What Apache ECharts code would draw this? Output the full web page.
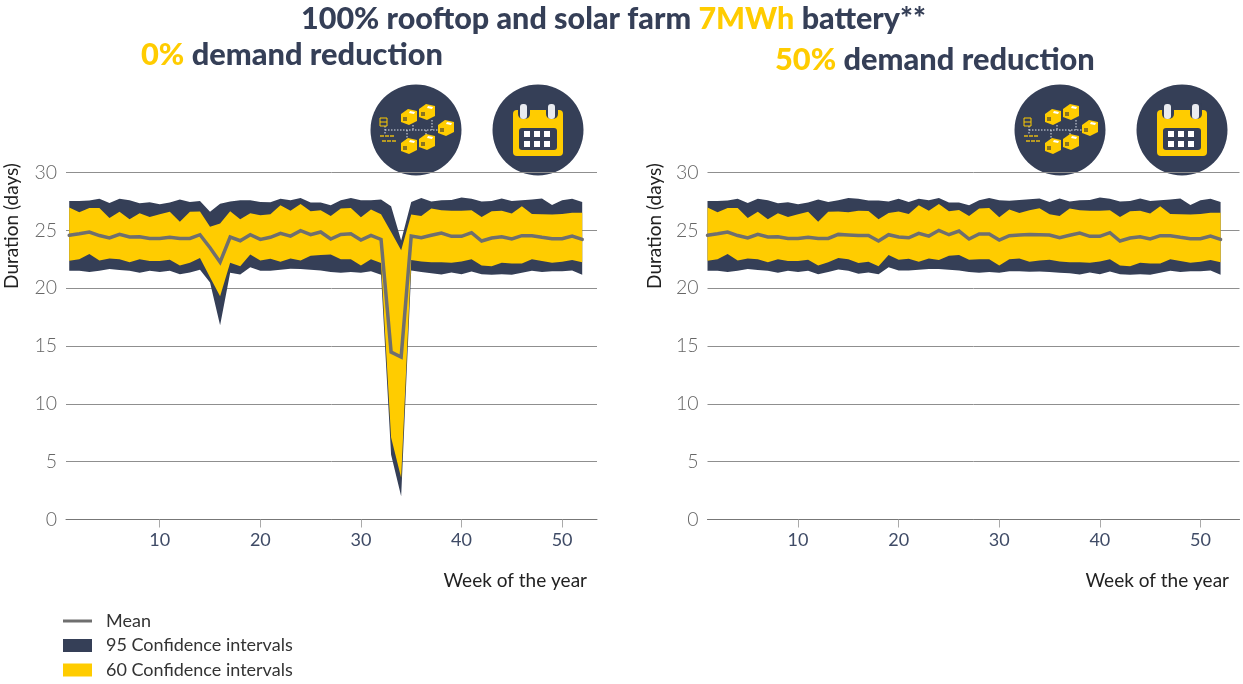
<!DOCTYPE html>
<html lang="en" style="height: 100%">
<head>
<meta charset="utf-8">
<title>100% rooftop and solar farm 7MWh battery</title>
</head>
<body style="height: 100%; margin: 0; background: #fff">
<div id="container" style="height: 100%"></div>
<script src="https://cdn.jsdelivr.net/npm/echarts/dist/echarts.min.js"></script>
<script>
var weeks = [];
for (var w = 1; w <= 52; w++) weeks.push(w);

var weekTicks = [10, 20, 30, 40, 50];

// 0% demand reduction
var low95A = [21.5, 21.5, 21.39, 21.5, 21.65, 21.56, 21.5, 21.33, 21.5, 21.39, 21.5, 21.2, 21.36, 21.6, 20.5, 16.8, 21.33, 21.18, 21.8, 21.5, 21.5, 21.6, 21.68, 21.65, 21.6, 21.53, 21.39, 21.33, 21.39, 21.33, 21.47, 21.16, 5.6, 2.0, 21.53, 21.39, 21.3, 21.18, 21.36, 21.2, 21.45, 21.2, 21.16, 21.2, 21.16, 21.33, 21.5, 21.39, 21.47, 21.47, 21.53, 21.16];
var low60A = [22.37, 22.49, 22.95, 22.4, 22.57, 22.49, 22.25, 22.5, 22.34, 22.34, 22.46, 21.97, 22.2, 22.6, 20.95, 19.3, 22.2, 21.9, 22.9, 22.4, 22.54, 22.28, 22.57, 22.4, 22.8, 22.86, 22.92, 22.49, 22.5, 21.97, 22.5, 22.17, 7.1, 3.6, 22.43, 22.31, 22.25, 22.25, 22.2, 22.31, 22.5, 21.97, 21.9, 22.2, 22.14, 22.14, 22.49, 22.34, 22.2, 22.28, 22.43, 22.25];
var meanA = [24.57, 24.7, 24.85, 24.55, 24.34, 24.65, 24.42, 24.45, 24.3, 24.3, 24.4, 24.3, 24.3, 24.62, 23.5, 22.25, 24.42, 24.1, 24.62, 24.22, 24.4, 24.74, 24.5, 24.97, 24.62, 24.86, 24.25, 24.65, 24.71, 24.16, 24.57, 24.22, 14.48, 14.05, 24.5, 24.36, 24.57, 24.77, 24.48, 24.48, 24.8, 24.08, 24.34, 24.45, 24.25, 24.54, 24.54, 24.4, 24.28, 24.28, 24.5, 24.22];
var up60A = [26.97, 26.56, 26.94, 26.94, 26.07, 26.6, 25.95, 26.47, 26.15, 26.39, 26.6, 25.75, 26.6, 26.62, 25.3, 25.6, 26.65, 25.95, 26.47, 26.3, 26.39, 27.17, 26.7, 27.28, 26.65, 26.73, 26.24, 26.88, 26.94, 26.13, 26.8, 26.39, 24.86, 23.27, 26.36, 26.24, 26.88, 26.73, 26.7, 26.7, 26.73, 26.16, 26.65, 26.7, 26.45, 27.08, 26.42, 26.39, 26.36, 26.42, 26.53, 26.53];
var up95A = [27.54, 27.54, 27.57, 27.72, 27.37, 27.72, 27.6, 27.34, 27.43, 27.25, 27.4, 27.66, 27.46, 27.54, 26.6, 27.3, 27.5, 27.6, 27.6, 27.46, 27.43, 27.72, 27.6, 27.8, 27.4, 27.4, 27.17, 27.6, 27.8, 27.6, 27.6, 27.66, 27.08, 24.13, 27.46, 27.8, 27.5, 27.6, 27.63, 27.83, 27.72, 27.49, 27.54, 27.75, 27.54, 27.6, 27.66, 27.75, 27.2, 27.6, 27.72, 27.46];

// 50% demand reduction
var low95B = [21.5, 21.5, 21.39, 21.5, 21.65, 21.56, 21.5, 21.33, 21.5, 21.39, 21.5, 21.2, 21.39, 21.62, 21.5, 21.24, 21.36, 21.2, 21.8, 21.53, 21.53, 21.6, 21.65, 21.65, 21.6, 21.53, 21.39, 21.33, 21.39, 21.33, 21.47, 21.47, 21.42, 21.45, 21.39, 21.33, 21.3, 21.18, 21.36, 21.2, 21.45, 21.2, 21.16, 21.2, 21.16, 21.33, 21.5, 21.39, 21.47, 21.47, 21.53, 21.16];
var low60B = [22.37, 22.49, 22.95, 22.4, 22.57, 22.49, 22.25, 22.5, 22.34, 22.34, 22.46, 21.97, 22.25, 22.6, 22.5, 22.17, 22.28, 21.9, 22.86, 22.46, 22.54, 22.28, 22.57, 22.43, 22.8, 22.86, 22.46, 22.49, 22.5, 21.97, 22.49, 22.57, 22.28, 22.4, 22.46, 22.31, 22.25, 22.25, 22.2, 22.31, 22.5, 21.97, 21.9, 22.2, 22.14, 22.14, 22.49, 22.34, 22.2, 22.28, 22.43, 22.25];
var meanB = [24.57, 24.7, 24.85, 24.55, 24.34, 24.65, 24.42, 24.45, 24.3, 24.3, 24.4, 24.3, 24.3, 24.65, 24.6, 24.55, 24.55, 24.08, 24.62, 24.42, 24.36, 24.74, 24.5, 25.0, 24.62, 24.94, 24.25, 24.68, 24.68, 24.16, 24.54, 24.6, 24.65, 24.62, 24.6, 24.36, 24.57, 24.77, 24.48, 24.48, 24.8, 24.08, 24.34, 24.45, 24.25, 24.54, 24.54, 24.4, 24.28, 24.28, 24.5, 24.22];
var up60B = [26.97, 26.56, 26.94, 26.94, 26.07, 26.6, 25.95, 26.47, 26.15, 26.39, 26.6, 25.75, 26.6, 26.62, 26.56, 26.7, 26.68, 25.95, 26.5, 26.62, 26.42, 27.17, 26.7, 27.28, 26.65, 26.76, 26.24, 26.88, 26.94, 26.13, 26.8, 26.5, 26.73, 26.9, 26.39, 26.24, 26.88, 26.73, 26.7, 26.7, 26.73, 26.16, 26.65, 26.7, 26.45, 27.08, 26.42, 26.39, 26.36, 26.42, 26.53, 26.53];
var up95B = [27.54, 27.54, 27.57, 27.72, 27.37, 27.72, 27.6, 27.34, 27.43, 27.25, 27.4, 27.66, 27.46, 27.6, 27.8, 27.72, 27.57, 27.57, 27.5, 27.72, 27.46, 27.72, 27.6, 27.8, 27.4, 27.4, 27.17, 27.6, 27.8, 27.6, 27.55, 27.63, 27.69, 27.75, 27.46, 27.75, 27.5, 27.6, 27.63, 27.83, 27.72, 27.49, 27.54, 27.75, 27.54, 27.6, 27.66, 27.75, 27.2, 27.6, 27.72, 27.46];

var NAVY = '#353f57';
var YELLOW = '#ffcc00';
var GREY = '#6f6f6f';
var FONT = 'Lato';

var dom = document.getElementById('container');
var myChart = echarts.init(dom);

function pairs(arr) {
    return arr.map(function (v, i) { return [weeks[i], v]; });
}

// one filled polygon per band, run along the upper edge and back along the lower
function band(name, low, up, color, gridIdx) {
    return {
        name: name, type: 'custom', xAxisIndex: gridIdx, yAxisIndex: gridIdx,
        silent: true, itemStyle: { color: color },
        encode: { x: 0, y: [1, 2] },
        data: low.map(function (v, i) { return [weeks[i], v, up[i]]; }),
        renderItem: function (params, api) {
            if (params.dataIndex !== 0) return null;
            var pts = [];
            weeks.forEach(function (wk, i) { pts.push(api.coord([wk, up[i]])); });
            for (var i = weeks.length - 1; i >= 0; i--) pts.push(api.coord([weeks[i], low[i]]));
            return { type: 'polygon', shape: { points: pts }, style: { fill: color } };
        }
    };
}

function panelSeries(low95, low60, mean, up60, up95, gridIdx) {
    return [
        band('95 Confidence intervals', low95, up95, NAVY, gridIdx),
        band('60 Confidence intervals', low60, up60, YELLOW, gridIdx),
        {
            name: 'Mean', type: 'line', xAxisIndex: gridIdx, yAxisIndex: gridIdx,
            showSymbol: false, silent: true, z: 5, clip: false,
            lineStyle: { color: GREY, width: 3.5, cap: 'round', join: 'miter' },
            itemStyle: { color: GREY },
            data: pairs(mean)
        }
    ];
}

function xAxisFor(gridIdx, min, max) {
    return {
        type: 'value', gridIndex: gridIdx, min: min, max: max,
        splitLine: { show: false },
        axisLine: { show: true, onZero: false, lineStyle: { color: '#777', width: 1 } },
        axisTick: { show: true, customValues: weekTicks, length: 8, lineStyle: { color: '#aaa', width: 1 } },
        axisLabel: {
            customValues: weekTicks, color: '#3f4b66', fontFamily: FONT, fontSize: 18, margin: 12
        }
    };
}

function yAxisFor(gridIdx) {
    return {
        type: 'value', gridIndex: gridIdx, min: 0, max: 30, interval: 5,
        axisLine: { show: false },
        axisTick: { show: false },
        splitLine: { lineStyle: { color: '#8f8f8f', width: 1 } },
        axisLabel: { color: '#666', fontFamily: FONT, fontSize: 19.5, fontWeight: 300, margin: 9 }
    };
}

// small flat-shaded house for the network badge
function house(x, y) {
    return [
        { type: 'polygon', shape: { points: [[x - 8, y - 3], [x - 1, y - 8], [x + 8, y - 6], [x + 8, y + 4], [x, y + 8], [x - 8, y + 5]] }, style: { fill: YELLOW } },
        { type: 'polygon', shape: { points: [[x + 1, y - 6], [x + 6, y - 5], [x + 5, y - 3], [x, y - 4]] }, style: { fill: '#fff' } },
        { type: 'rect', shape: { x: x - 6, y: y, width: 4, height: 4 }, style: { fill: '#8a7420' } }
    ];
}

function dots(x1, y1, x2, y2) {
    return { type: 'line', shape: { x1: x1, y1: y1, x2: x2, y2: y2 }, style: { stroke: '#dfe3ea', lineWidth: 1, lineDash: [1.5, 1.5] } };
}

function networkBadge(cx, cy) {
    var els = [{ type: 'circle', shape: { cx: cx, cy: cy, r: 45.5 }, style: { fill: NAVY } }];
    els.push(dots(cx - 31, cy, cx + 24, cy));
    els.push(dots(cx - 31, cy - 4, cx - 31, cy + 5));
    els.push(dots(cx - 9, cy, cx - 9, cy + 10));
    els.push(dots(cx - 3, cy - 5, cx - 3, cy));
    els.push(dots(cx + 16, cy - 10, cx + 16, cy));
    els.push(dots(cx + 10, cy, cx + 10, cy + 6));
    [[-7, -13], [11, -18], [30, -2], [-7, 16], [11, 12]].forEach(function (p) {
        els = els.concat(house(cx + p[0], cy + p[1]));
    });
    // pylon
    els.push({ type: 'rect', shape: { x: cx - 36, y: cy - 12, width: 7, height: 8 }, style: { fill: 'none', stroke: YELLOW, lineWidth: 1 } });
    els.push({ type: 'line', shape: { x1: cx - 36, y1: cy - 8, x2: cx - 29, y2: cy - 8 }, style: { stroke: YELLOW, lineWidth: 1 } });
    // panels
    [-36, -31, -26].forEach(function (dx) {
        els.push({ type: 'rect', shape: { x: cx + dx, y: cy + 5, width: 4, height: 2 }, style: { fill: '#b79a25' } });
        els.push({ type: 'rect', shape: { x: cx + dx + 2, y: cy + 10, width: 4, height: 2 }, style: { fill: '#b79a25' } });
    });
    return els;
}

function calendarBadge(cx, cy) {
    var els = [{ type: 'circle', shape: { cx: cx, cy: cy, r: 45.5 }, style: { fill: NAVY } }];
    els.push({ type: 'rect', shape: { x: cx - 25, y: cy - 20, width: 50, height: 46, r: 4 }, style: { fill: YELLOW } });
    [-18, 10].forEach(function (dx) {
        els.push({ type: 'rect', shape: { x: dx + cx - 2, y: cy - 28, width: 12, height: 17, r: 5 }, style: { fill: NAVY } });
        els.push({ type: 'rect', shape: { x: dx + cx, y: cy - 26, width: 7, height: 15, r: 3 }, style: { fill: '#e9ebf0' } });
    });
    els.push({ type: 'rect', shape: { x: cx - 19, y: cy - 2, width: 38, height: 22, r: 3 }, style: { fill: NAVY } });
    [-15, -5, 5].forEach(function (dx) {
        [1, 11].forEach(function (dy) {
            els.push({ type: 'rect', shape: { x: cx + dx + 1, y: cy + dy, width: 6, height: 6 }, style: { fill: '#fff' } });
        });
    });
    return els;
}

function plainText(text, x, y, size, color, align, rotation) {
    return {
        type: 'text', x: x, y: y, rotation: rotation || 0,
        style: { text: text, fontFamily: FONT, fontSize: size, fill: color, align: align || 'left', verticalAlign: 'middle' }
    };
}

function heading(left, top, size, richText) {
    return {
        left: left, top: top, padding: 0, itemGap: 0,
        text: richText,
        textStyle: {
            rich: {
                d: { color: NAVY, fontFamily: FONT, fontWeight: 900, fontSize: size },
                y: { color: YELLOW, fontFamily: FONT, fontWeight: 900, fontSize: size }
            }
        }
    };
}

var option = {
    animation: false,
    title: [
        heading(301, 4, 30.5, '{d|100% rooftop and solar farm }{y|7MWh}{d| battery**}'),
        heading(141, 40, 30.8, '{y|0%}{d| demand reduction}'),
        heading(775, 45, 30.8, '{y|50%}{d| demand reduction}')
    ],
    legend: {
        left: 63, top: 612, height: 100, orient: 'vertical', itemWidth: 29, itemHeight: 13, itemGap: 6.5, padding: 0,
        selectedMode: false,
        textStyle: { color: '#333', fontFamily: FONT, fontSize: 18, padding: [0, 0, 0, 9] },
        data: [
            { name: 'Mean', icon: 'path://M0,0H29V3H0Z', itemStyle: { color: GREY } },
            { name: '95 Confidence intervals', icon: 'rect', itemStyle: { color: NAVY } },
            { name: '60 Confidence intervals', icon: 'rect', itemStyle: { color: YELLOW } }
        ]
    },
    grid: [
        { left: 66, top: 172.5, width: 531, height: 347 },
        { left: 707.5, top: 172.5, width: 532, height: 347 }
    ],
    xAxis: [xAxisFor(0, 0.68, 53.47), xAxisFor(1, 1, 53.88)],
    yAxis: [yAxisFor(0), yAxisFor(1)],
    series: panelSeries(low95A, low60A, meanA, up60A, up95A, 0)
        .concat(panelSeries(low95B, low60B, meanB, up60B, up95B, 1)),
    graphic: [
        plainText('Duration (days)', 12, 226, 19, '#222', 'center', Math.PI / 2),
        plainText('Duration (days)', 655, 226, 19, '#222', 'center', Math.PI / 2),
        plainText('Week of the year', 587, 581, 19, '#222', 'right'),
        plainText('Week of the year', 1229, 581, 19, '#222', 'right')
    ].concat(networkBadge(416, 130), calendarBadge(538, 130), networkBadge(1060, 130), calendarBadge(1182, 130))
};

myChart.setOption(option);
window.addEventListener('resize', myChart.resize);
</script>
</body>
</html>
